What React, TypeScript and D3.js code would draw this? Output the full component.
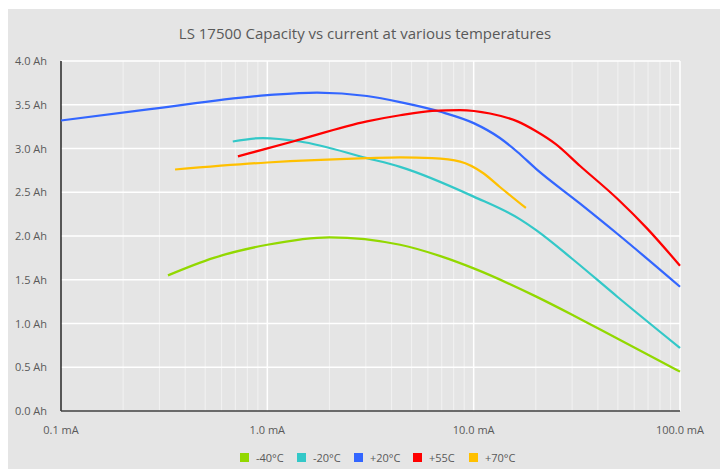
import React, { useEffect, useRef } from 'react';
import * as d3 from 'd3';

// current in mA, capacity in Ah
const minus40Current = [0.33, 0.55, 1.0, 2.0, 4.4, 6.9, 10, 20, 30, 40, 100];
const minus40Cap = [1.55, 1.75, 1.9, 1.985, 1.9, 1.77, 1.63, 1.31, 1.1, 0.945, 0.45];

const minus20Current = [0.68, 0.95, 1.44, 3.04, 4.4, 10, 16.8, 20, 30, 50, 100];
const minus20Cap = [3.08, 3.12, 3.08, 2.89, 2.79, 2.45, 2.19, 2.07, 1.74, 1.3, 0.72];

const plus20Current = [0.1, 0.27, 1.0, 1.74, 3.04, 4.4, 6.9, 10, 13.4, 16.3, 20, 32.8, 50, 100];
const plus20Cap = [3.32, 3.45, 3.61, 3.64, 3.6, 3.53, 3.42, 3.29, 3.12, 2.96, 2.77, 2.37, 2.02, 1.42];

const plus55Current = [0.72, 1.33, 3.04, 4.4, 6.3, 8.6, 12, 16.3, 20, 25, 32.8, 50, 69, 100];
const plus55Cap = [2.91, 3.08, 3.31, 3.38, 3.43, 3.44, 3.4, 3.31, 3.2, 3.05, 2.8, 2.42, 2.09, 1.66];

const plus70Current = [0.357, 1.0, 3.04, 4.4, 6.3, 8.6, 11.1, 13.4, 17.9];
const plus70Cap = [2.76, 2.84, 2.89, 2.9, 2.89, 2.85, 2.72, 2.56, 2.32];

const seriesNames = ['-40°C', '-20°C', '+20°C', '+55C', '+70°C'];
const seriesColors = ['#92d800', '#33c8c8', '#3366ff', '#ff0000', '#ffc000'];

const yTicks = [0, 0.5, 1, 1.5, 2, 2.5, 3, 3.5, 4];
const xTicks = [0.1, 1, 10, 100];

export default function App() {
  const svgRef = useRef<SVGSVGElement>(null);

  useEffect(() => {
    const svg = d3.select(svgRef.current);
    svg.selectAll('*').remove();

    const W = 720, H = 469;
    const left = 61, right = 680, top = 61, bottom = 411;
    const font = "'Open Sans', 'Noto Sans', sans-serif";
    const textColor = '#595959';

    svg.attr('width', W).attr('height', H);

    svg.append('rect')
      .attr('x', 8).attr('y', 9).attr('width', W - 8).attr('height', H - 9)
      .attr('fill', '#e5e5e5');

    const x = d3.scaleLog().domain([0.1, 100]).range([left, right]);
    const y = d3.scaleLinear().domain([0, 4]).range([bottom, top]);

    // minor vertical grid
    const minor: number[] = [];
    [0.1, 1, 10].forEach(d => {
      for (let k = 2; k <= 9; k++) minor.push(d * k);
    });
    svg.append('g').selectAll('line').data(minor).enter().append('line')
      .attr('x1', d => x(d)).attr('x2', d => x(d))
      .attr('y1', top).attr('y2', bottom)
      .attr('stroke', '#f2f2f2').attr('stroke-width', 1);

    // major vertical grid
    svg.append('g').selectAll('line').data(xTicks.slice(1)).enter().append('line')
      .attr('x1', d => x(d)).attr('x2', d => x(d))
      .attr('y1', top).attr('y2', bottom)
      .attr('stroke', '#ffffff').attr('stroke-width', 1.5);

    // horizontal grid
    svg.append('g').selectAll('line').data(yTicks.slice(1)).enter().append('line')
      .attr('x1', left).attr('x2', right)
      .attr('y1', d => y(d)).attr('y2', d => y(d))
      .attr('stroke', '#ffffff').attr('stroke-width', 1.5);

    // axes
    svg.append('line')
      .attr('x1', left).attr('x2', left).attr('y1', top).attr('y2', bottom)
      .attr('stroke', '#000').attr('stroke-width', 1.25);
    svg.append('line')
      .attr('x1', left).attr('x2', right).attr('y1', bottom).attr('y2', bottom)
      .attr('stroke', '#404040').attr('stroke-width', 1.5);

    // tick labels
    svg.append('g').selectAll('text').data(yTicks).enter().append('text')
      .attr('x', 47).attr('y', d => y(d) + 4)
      .attr('text-anchor', 'end')
      .style('font-family', font).style('font-size', '11px').attr('fill', textColor)
      .text(d => `${d.toFixed(1)} Ah`);

    svg.append('g').selectAll('text').data(xTicks).enter().append('text')
      .attr('x', d => x(d)).attr('y', 434)
      .attr('text-anchor', 'middle')
      .style('font-family', font).style('font-size', '11px').attr('fill', textColor)
      .text(d => `${d.toFixed(1)} mA`);

    // title
    svg.append('text')
      .attr('x', 365).attr('y', 39)
      .attr('text-anchor', 'middle')
      .style('font-family', font).style('font-size', '15px').attr('fill', textColor)
      .text('LS 17500 Capacity vs current at various temperatures');

    const series = [
      [minus40Current, minus40Cap],
      [minus20Current, minus20Cap],
      [plus20Current, plus20Cap],
      [plus55Current, plus55Cap],
      [plus70Current, plus70Cap],
    ];

    const line = d3.line<[number, number]>()
      .x(d => x(d[0]))
      .y(d => y(d[1]))
      .curve(d3.curveMonotoneX);

    series.forEach(([cur, cap], i) => {
      const pts = cur.map((c, j) => [c, cap[j]] as [number, number]);
      svg.append('path')
        .datum(pts)
        .attr('fill', 'none')
        .attr('stroke', seriesColors[i])
        .attr('stroke-width', 2.25)
        .attr('d', line);
    });

    // legend
    const legendX = [240, 297, 354, 413, 469];
    const lg = svg.append('g');
    seriesNames.forEach((name, i) => {
      lg.append('rect')
        .attr('x', legendX[i]).attr('y', 453)
        .attr('width', 9).attr('height', 9)
        .attr('fill', seriesColors[i]);
      lg.append('text')
        .attr('x', legendX[i] + 16).attr('y', 462)
        .style('font-family', font).style('font-size', '11px').attr('fill', textColor)
        .text(name);
    });
  }, []);

  return <svg ref={svgRef} style={{ position: 'absolute', left: 0, top: 0 }} />;
}
